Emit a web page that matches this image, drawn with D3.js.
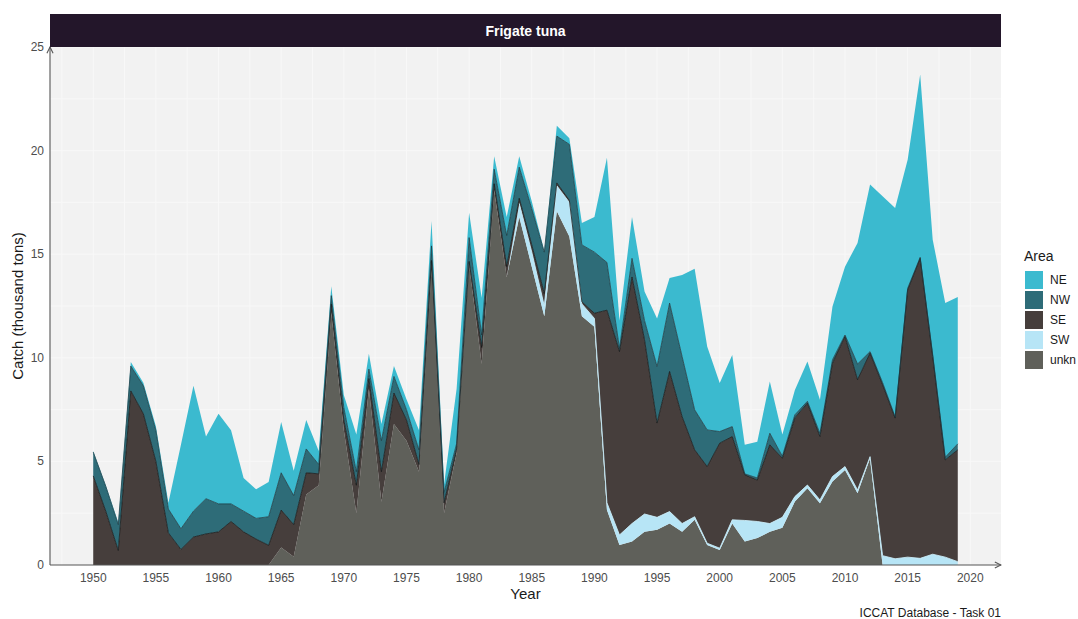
<!DOCTYPE html>
<html>
<head>
<meta charset="utf-8">
<script src="https://cdn.jsdelivr.net/npm/d3@7"></script>
<style>
  body { margin: 0; background: #ffffff; }
  text { font-family: "Liberation Sans", Arial, sans-serif; }
</style>
</head>
<body>
<div id="canvas"></div>
<script>
"use strict"

// DATA - catch in thousand tons

let years = d3.range(1950, 2020);

let unkn = [0, 0, 0, 0, 0, 0, 0, 0, 0, 0,
    0, 0, 0, 0, 0, 0.85, 0.4, 3.4, 3.85, 12.2,
    6.5, 2.5, 8.5, 3.05, 6.8, 6.0, 4.5, 14.3, 2.5, 5.4,
    14.5, 9.7, 18.1, 13.9, 16.8, 14.4, 12.0, 17.07, 15.85, 12.0,
    11.5, 2.65, 0.97, 1.13, 1.61, 1.7, 2.0, 1.61, 2.18, 0.97,
    0.72, 2.0, 1.13, 1.3, 1.61, 1.8, 3.06, 3.7, 2.98, 4.03,
    4.59, 3.46, 5.15, 0, 0, 0, 0, 0, 0, 0];

let SW = [0, 0, 0, 0, 0, 0, 0, 0, 0, 0,
    0, 0, 0, 0, 0, 0, 0, 0, 0, 0,
    0, 0, 0, 0, 0, 0, 0, 0, 0, 0,
    0, 0, 0, 0, 0.65, 0.7, 0.5, 1.23, 1.65, 0.6,
    0.4, 0.35, 0.48, 0.87, 0.85, 0.6, 0.58, 0.39, 0.15, 0.08,
    0.09, 0.18, 1.02, 0.8, 0.39, 0.5, 0.24, 0.16, 0.16, 0.24,
    0.16, 0.16, 0.08, 0.45, 0.3, 0.38, 0.32, 0.52, 0.38, 0.16];

let SE = [4.3, 2.6, 0.7, 8.4, 7.3, 5.0, 1.55, 0.75, 1.35, 1.5,
    1.6, 2.1, 1.6, 1.25, 0.95, 1.8, 1.55, 1.05, 0.55, 0.4,
    0.5, 1.35, 0.5, 1.45, 1.5, 1.0, 0.35, 0.4, 0.5, 0.2,
    0.15, 0.8, 0.3, 0.5, 0.25, 0.35, 0.6, 0.14, 0.1, 0.1,
    0.25, 9.3, 8.85, 11.9, 8.41, 4.55, 6.76, 5.16, 3.23, 3.7,
    5.07, 4.02, 2.2, 2.0, 3.8, 2.85, 3.8, 3.95, 3.06, 5.47,
    6.28, 5.32, 5.0, 8.25, 6.79, 12.9, 14.48, 9.54, 4.69, 5.4];

let NW = [1.15, 1.2, 1.25, 1.2, 1.35, 1.5, 1.15, 1.0, 1.25, 1.7,
    1.35, 0.85, 1.0, 1.0, 1.38, 1.8, 1.4, 1.15, 0.45, 0.4,
    0.6, 0.65, 0.45, 1.5, 0.8, 0.5, 0.7, 0.7, 0.5, 0.25,
    1.15, 0.6, 0.7, 1.5, 1.5, 1.75, 2.0, 2.26, 2.7, 2.75,
    2.95, 2.3, 0.15, 0.9, 0.93, 2.73, 3.3, 2.9, 1.93, 1.77,
    0.56, 0.48, 0.05, 0.1, 0.56, 0.1, 0.15, 0.09, 0.15, 0.16,
    0.07, 0.76, 0.07, 0.1, 0.06, 0.07, 0.05, 0.09, 0.13, 0.29];

let NE = [0.05, 0.05, 0.1, 0.2, 0.15, 0.2, 0.3, 4.05, 6.05, 3.0,
    4.35, 3.55, 1.6, 1.4, 1.67, 2.45, 1.2, 1.4, 0.65, 0.45,
    0.6, 1.8, 0.75, 0.8, 0.5, 0.5, 0.95, 1.2, 0.4, 2.65,
    1.2, 1.8, 0.63, 0.9, 0.53, 0.35, 0.05, 0.5, 0.3, 1.05,
    1.7, 5.05, 1.35, 2.0, 1.4, 2.32, 1.21, 3.94, 6.81, 4.03,
    2.34, 3.46, 1.4, 1.75, 2.5, 1.05, 1.2, 1.92, 1.62, 2.58,
    3.3, 5.84, 8.06, 9.0, 10.08, 6.21, 8.82, 5.55, 7.44, 7.08];

let areas = ["NE", "NW", "SE", "SW", "unkn"]; // legend order, first one sits on top
let yTicks = [0, 5, 10, 15, 20, 25];
let xTicks = [1950, 1955, 1960, 1965, 1970, 1975, 1980, 1985, 1990, 1995, 2000, 2005, 2010, 2015, 2020];

// CANVAS SETUP

let svgWidth = 1078;
let svgHeight = 619;

let panelLeft = 50;
let panelRight = 1001;
let panelTop = 47;
let panelBottom = 565;

let svg = d3.select("#canvas")
    .append("svg")
    .attr("width", svgWidth)
    .attr("height", svgHeight);

// TABLE FOR THE STACK

let table = years.map(function (year, i) {
    return { year: year, unkn: unkn[i], SW: SW[i], SE: SE[i], NW: NW[i], NE: NE[i] };
});

let stackOrder = areas.slice().reverse(); // unkn at the bottom
let stacked = d3.stack().keys(stackOrder)(table);

// SCALES

let xScale = d3.scaleLinear()
    .domain([1946.55, 2022.45]) // ggplot style 5% padding around 1950-2019
    .range([panelLeft, panelRight]);

let yScale = d3.scaleLinear()
    .domain([0, 25])
    .range([panelBottom, panelTop]);

let colorScale = d3.scaleOrdinal()
    .domain(areas)
    .range(["#3bbacf", "#2e6c78", "#463e3c", "#b7e5f6", "#5f605a"]);

// PANEL BACKGROUND + GRID

svg.append("rect")
    .attr("x", panelLeft)
    .attr("y", panelTop)
    .attr("width", panelRight - panelLeft)
    .attr("height", panelBottom - panelTop)
    .attr("fill", "#f2f2f2");

let gridX = d3.range(1947.5, 2022, 2.5);
let gridY = d3.range(2.5, 25.1, 2.5);

svg.selectAll(".gridX")
    .data(gridX)
    .join("line")
    .attr("class", "gridX")
    .attr("x1", function (d) { return xScale(d) })
    .attr("x2", function (d) { return xScale(d) })
    .attr("y1", panelTop)
    .attr("y2", panelBottom)
    .attr("stroke", "#f8f8f8")
    .attr("stroke-width", 1);

svg.selectAll(".gridY")
    .data(gridY)
    .join("line")
    .attr("class", "gridY")
    .attr("x1", panelLeft)
    .attr("x2", panelRight)
    .attr("y1", function (d) { return yScale(d) })
    .attr("y2", function (d) { return yScale(d) })
    .attr("stroke", "#f8f8f8")
    .attr("stroke-width", 1);

// STACKED AREAS

let area = d3.area()
    .x(function (d) { return xScale(d.data.year) })
    .y0(function (d) { return yScale(d[0]) })
    .y1(function (d) { return yScale(d[1]) });

svg.selectAll(".layer")
    .data(stacked)
    .join("path")
    .attr("class", "layer")
    .attr("fill", function (d) { return colorScale(d.key) })
    .attr("d", area);

// thin outline along the top of each layer (ggplot draws the upper edge only)
let upper = d3.line()
    .x(function (d) { return xScale(d.data.year) })
    .y(function (d) { return yScale(d[1]) });

let outlineColor = { unkn: "none", SW: "#c9eefb", SE: "#141414", NW: "#1c3940", NE: "none" };

svg.selectAll(".edge")
    .data(stacked)
    .join("path")
    .attr("class", "edge")
    .attr("fill", "none")
    .attr("stroke", function (d) { return outlineColor[d.key] })
    .attr("stroke-width", function (d) { return d.key == "SW" ? 1 : 0.9 })
    .attr("stroke-opacity", 0.85)
    .attr("d", function (d) {
        if (d.key == "SW") {
            // only where SW data exists, otherwise it would run along the grey
            return upper.defined(function (p) { return p.data.year >= 1984 })(d);
        }
        return upper.defined(function () { return true })(d);
    });

// AXES

let defs = svg.append("defs");
defs.append("marker")
    .attr("id", "arrow")
    .attr("viewBox", "0 0 10 10")
    .attr("refX", 9)
    .attr("refY", 5)
    .attr("markerWidth", 7)
    .attr("markerHeight", 7)
    .attr("orient", "auto")
    .append("path")
    .attr("d", "M1,1 L9,5 L1,9")
    .attr("fill", "none")
    .attr("stroke", "#555555")
    .attr("stroke-width", 1.4);

svg.append("line")
    .attr("x1", panelLeft)
    .attr("y1", panelBottom)
    .attr("x2", panelRight)
    .attr("y2", panelBottom)
    .attr("stroke", "#555555")
    .attr("stroke-width", 1.1)
    .attr("marker-end", "url(#arrow)");

svg.append("line")
    .attr("x1", panelLeft)
    .attr("y1", panelBottom)
    .attr("x2", panelLeft)
    .attr("y2", panelTop)
    .attr("stroke", "#555555")
    .attr("stroke-width", 1.1)
    .attr("marker-end", "url(#arrow)");

svg.selectAll(".xTick")
    .data(xTicks)
    .join("text")
    .attr("class", "xTick")
    .attr("x", function (d) { return xScale(d) })
    .attr("y", panelBottom + 17)
    .style("text-anchor", "middle")
    .style("font-size", "12px")
    .attr("fill", "#4d4d4d")
    .text(function (d) { return d });

svg.selectAll(".yTick")
    .data(yTicks)
    .join("text")
    .attr("class", "yTick")
    .attr("x", panelLeft - 6)
    .attr("y", function (d) { return yScale(d) + 4 })
    .style("text-anchor", "end")
    .style("font-size", "12px")
    .attr("fill", "#4d4d4d")
    .text(function (d) { return d });

// axis titles
svg.append("text")
    .attr("x", (panelLeft + panelRight) / 2)
    .attr("y", 599)
    .style("text-anchor", "middle")
    .style("font-size", "15px")
    .attr("fill", "#1a1a1a")
    .text("Year");

svg.append("text")
    .attr("transform", "translate(23," + ((panelTop + panelBottom) / 2) + ") rotate(-90)")
    .style("text-anchor", "middle")
    .style("font-size", "15px")
    .attr("fill", "#1a1a1a")
    .text("Catch (thousand tons)");

// FACET STRIP

svg.append("rect")
    .attr("x", panelLeft)
    .attr("y", 14)
    .attr("width", panelRight - panelLeft)
    .attr("height", panelTop - 14)
    .attr("fill", "#23162a");

svg.append("text")
    .attr("x", (panelLeft + panelRight) / 2)
    .attr("y", 36)
    .style("text-anchor", "middle")
    .style("font-size", "14px")
    .style("font-weight", "bold")
    .attr("fill", "#ffffff")
    .text("Frigate tuna");

// LEGEND

svg.append("text")
    .attr("x", 1024)
    .attr("y", 261)
    .style("font-size", "14px")
    .attr("fill", "#1a1a1a")
    .text("Area");

let legend = svg.selectAll(".key")
    .data(areas)
    .join("g")
    .attr("class", "key")
    .attr("transform", function (d, i) { return "translate(1025," + (271 + i * 20) + ")" });

legend.append("rect")
    .attr("width", 18)
    .attr("height", 18)
    .attr("fill", function (d) { return colorScale(d) });

legend.append("text")
    .attr("x", 25)
    .attr("y", 13)
    .style("font-size", "12px")
    .attr("fill", "#1a1a1a")
    .text(function (d) { return d });

// CAPTION

svg.append("text")
    .attr("x", panelRight)
    .attr("y", 617)
    .style("text-anchor", "end")
    .style("font-size", "12px")
    .attr("fill", "#1a1a1a")
    .text("ICCAT Database - Task 01");
</script>
</body>
</html>
